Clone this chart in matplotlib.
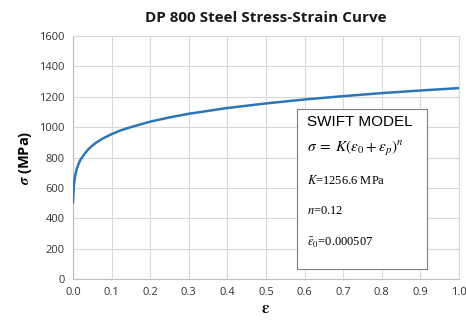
import matplotlib.pyplot as plt
import numpy as np

# strain / stress readings from the chart
eps = [0, 0.002, 0.005, 0.01, 0.015, 0.02, 0.03, 0.04, 0.05, 0.06, 0.075,
       0.1, 0.125, 0.15, 0.2, 0.25, 0.3, 0.4, 0.5, 0.6, 0.7, 0.8, 0.9, 1.0]
sig = [506, 612, 673, 728, 762, 788, 824, 855, 878, 898, 922,
       954, 980, 1000, 1036, 1064, 1088, 1126, 1156, 1182, 1204, 1224,
       1241, 1257]

xticks = np.arange(0, 1.01, 0.1)
yticks = np.arange(0, 1601, 200)

plt.rcParams['font.family'] = ['Open Sans', 'DejaVu Sans']
plt.rcParams['mathtext.fontset'] = 'stix'

fig = plt.figure(figsize=(4.66, 3.29), dpi=100)
ax = fig.add_axes([73/466, 1 - 279/329, (459 - 73)/466, (279 - 36)/329])

ax.plot(eps, sig, color='#2E75B6', lw=1.8, zorder=3)
ax.set_xlim(0, 1)
ax.set_ylim(0, 1600)
ax.set_xticks(xticks)
ax.set_yticks(yticks)
ax.set_xticklabels(['%.1f' % v for v in xticks])
ax.grid(True, color='#D9D9D9', lw=0.8)
for s in ax.spines.values():
    s.set_color('#D9D9D9')
    s.set_linewidth(0.8)
ax.spines['left'].set_color('#BFBFBF')
ax.spines['bottom'].set_color('#BFBFBF')
ax.tick_params(length=0, labelsize=8, colors='#333333', pad=6)

ax.set_title('DP 800 Steel Stress-Strain Curve', fontsize=11,
             fontweight='bold', pad=10, color='#1a1a1a')
ax.set_ylabel(r'$\boldsymbol{\sigma}$ (MPa)', fontsize=10.5, fontweight='bold')
ax.set_xlabel(r'$\boldsymbol{\varepsilon}$', fontsize=12, labelpad=2)

# legend box with model text
bx = fig.add_axes([297/466, 1 - 269/329, 130/466, 160/329])
bx.set_xticks([])
bx.set_yticks([])
for s in bx.spines.values():
    s.set_color('#7F7F7F')
    s.set_linewidth(0.8)
bx.text(0.08, 0.92, 'SWIFT MODEL', fontsize=11, family='Liberation Sans',
        va='center')
bx.text(0.08, 0.75, r'$\sigma\;=\;K(\varepsilon_0 + \varepsilon_p)^n$',
        fontsize=11, va='center')
bx.text(0.08, 0.55, r'$K$=1256.6 MPa', fontsize=9,
        family='Liberation Serif', va='center')
bx.text(0.08, 0.36, r'$n$=0.12', fontsize=9,
        family='Liberation Serif', va='center')
bx.text(0.08, 0.16, r'$\bar{\varepsilon}_0$=0.000507', fontsize=9,
        family='Liberation Serif', va='center')

fig.savefig('out.png', dpi=100)
